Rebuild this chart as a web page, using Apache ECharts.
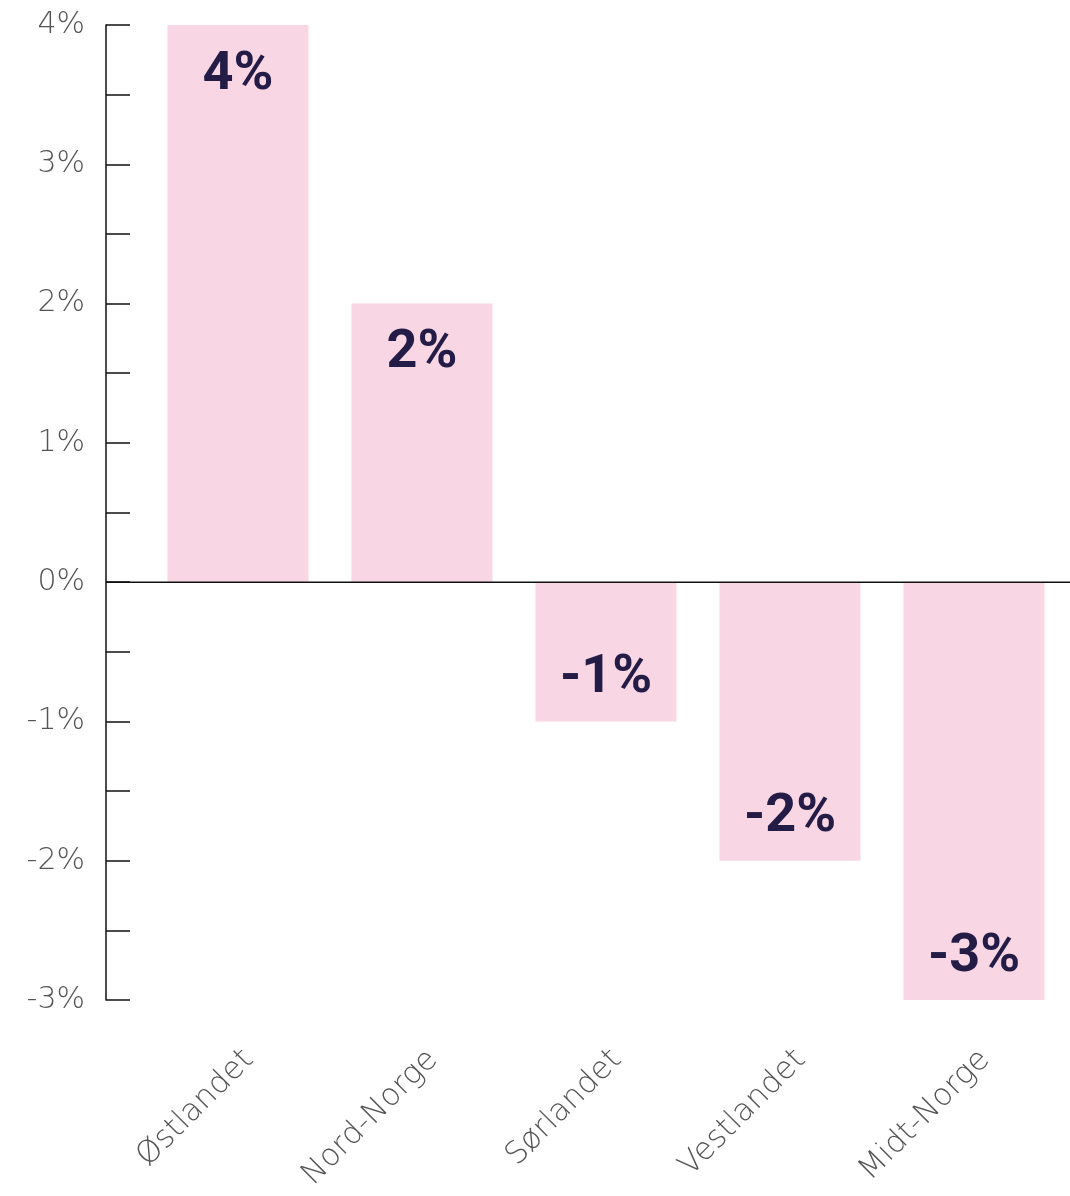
<!DOCTYPE html>
<html>
<head>
<meta charset="utf-8">
<script src="https://cdn.jsdelivr.net/npm/echarts@6/dist/echarts.min.js"></script>
<style>
  html, body { margin: 0; padding: 0; background: #fff; }
  #chart { width: 1070px; height: 1196px; }
</style>
</head>
<body>
<div id="chart"></div>
<script>
// regions and change in percent
const regions = ['Østlandet', 'Nord-Norge', 'Sørlandet', 'Vestlandet', 'Midt-Norge']
const change = [4, 2, -1, -2, -3]
const yMin = -3
const yMax = 4

const chart = echarts.init(document.getElementById('chart'))

const barData = change.map(v => ({
  value: v,
  label: {
    position: v >= 0 ? 'insideTop' : 'insideBottom',
    distance: v >= 0 ? 23 : 16
  }
}))

const option = {
  backgroundColor: '#fff',
  animation: false,
  grid: { left: 146, right: 4, top: 25, bottom: 196 },
  xAxis: {
    type: 'category',
    data: regions,
    axisLine: { show: false, onZero: false },
    axisTick: { show: false },
    axisLabel: {
      rotate: 45,
      margin: 44,
      verticalAlign: 'top',
      color: '#555',
      fontFamily: 'DejaVu Sans',
      fontWeight: 200,
      fontSize: 31
    }
  },
  yAxis: {
    type: 'value',
    min: yMin,
    max: yMax,
    interval: 1,
    offset: 40,
    axisLine: { show: true, lineStyle: { color: '#111', width: 1.5 } },
    axisTick: { show: true, inside: true, length: 24, lineStyle: { color: '#111', width: 1.5 } },
    minorTick: { show: true, splitNumber: 2, length: 24, lineStyle: { color: '#111', width: 1.5 } },
    splitLine: { show: false },
    axisLabel: {
      margin: 21,
      padding: [6, 0, 0, 0],
      color: '#555',
      fontFamily: 'DejaVu Sans',
      fontWeight: 200,
      fontSize: 30,
      formatter: v => v + '%'
    }
  },
  series: [{
    type: 'bar',
    data: barData,
    barWidth: 141,
    itemStyle: { color: '#f9d6e3' },
    label: {
      show: true,
      color: '#221c46',
      fontFamily: 'Roboto',
      fontWeight: 'bold',
      fontSize: 54,
      formatter: p => p.value + '%'
    }
  }]
}
chart.setOption(option)

// zero line runs from the y axis to the right edge
const y0 = chart.convertToPixel({ yAxisIndex: 0 }, 0)
chart.setOption({
  graphic: [{
    type: 'line',
    z: 10,
    shape: { x1: 106, y1: y0, x2: 1070, y2: y0 },
    style: { stroke: '#111', lineWidth: 1.5 }
  }]
})
</script>
</body>
</html>
